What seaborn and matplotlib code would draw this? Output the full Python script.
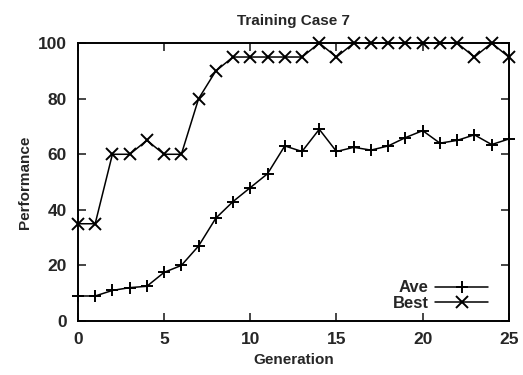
import matplotlib
matplotlib.use("Agg")
import matplotlib.pyplot as plt
import seaborn as sns
import pandas as pd

generation = list(range(26))
ave = [9, 9, 11, 12, 12.5, 17.5, 20, 27, 37, 43, 48, 53, 63, 61, 69, 61,
       62.5, 61.5, 63, 66, 68.5, 64, 65, 67, 63.5, 65.5]
best = [35, 35, 60, 60, 65, 60, 60, 80, 90, 95, 95, 95, 95, 95, 100, 95,
        100, 100, 100, 100, 100, 100, 100, 95, 100, 95]
series_names = ["Ave", "Best"]
series_markers = ["+", "x"]

df_ave = pd.DataFrame({"Generation": generation, "Performance": ave})
df_best = pd.DataFrame({"Generation": generation, "Performance": best})

sns.set_style("ticks")
plt.rcParams["font.family"] = ["Liberation Sans", "DejaVu Sans"]
plt.rcParams["font.weight"] = "bold"

fig = plt.figure(figsize=(5.23, 3.75), dpi=100)
ax = fig.add_axes([0.149, 0.144, 0.824, 0.741])

for d, name, mk in zip([df_ave, df_best], series_names, series_markers):
    sns.lineplot(data=d, x="Generation", y="Performance", ax=ax,
                 color="black", marker=mk, markersize=9,
                 markeredgewidth=1.4, markeredgecolor="black",
                 linewidth=1.1, label=name, clip_on=False)

ax.set_xlim(0, 25)
ax.set_ylim(0, 100)
ax.set_xticks([0, 5, 10, 15, 20, 25])
ax.set_yticks([0, 20, 40, 60, 80, 100])
ax.tick_params(direction="in", top=True, right=True, length=6, width=1.2,
               labelsize=12.5, pad=8)
for s in ax.spines.values():
    s.set_linewidth(1.4)
    s.set_color("black")
for lab in ax.get_xticklabels() + ax.get_yticklabels():
    lab.set_fontweight("bold")

ax.set_title("Training Case 7", fontsize=11, fontweight="bold", pad=13)
ax.set_xlabel("Generation", fontsize=11, fontweight="bold", labelpad=4)
ax.set_ylabel("Performance", fontsize=11, fontweight="bold")

leg = ax.legend(loc="lower right", bbox_to_anchor=(0.968, 0.011),
                frameon=False, markerfirst=False,
                fontsize=12, handlelength=3.2, borderaxespad=0,
                labelspacing=0.05, handletextpad=0.4)
for t in leg.get_texts():
    t.set_fontweight("bold")

fig.savefig("out.png", dpi=100)
